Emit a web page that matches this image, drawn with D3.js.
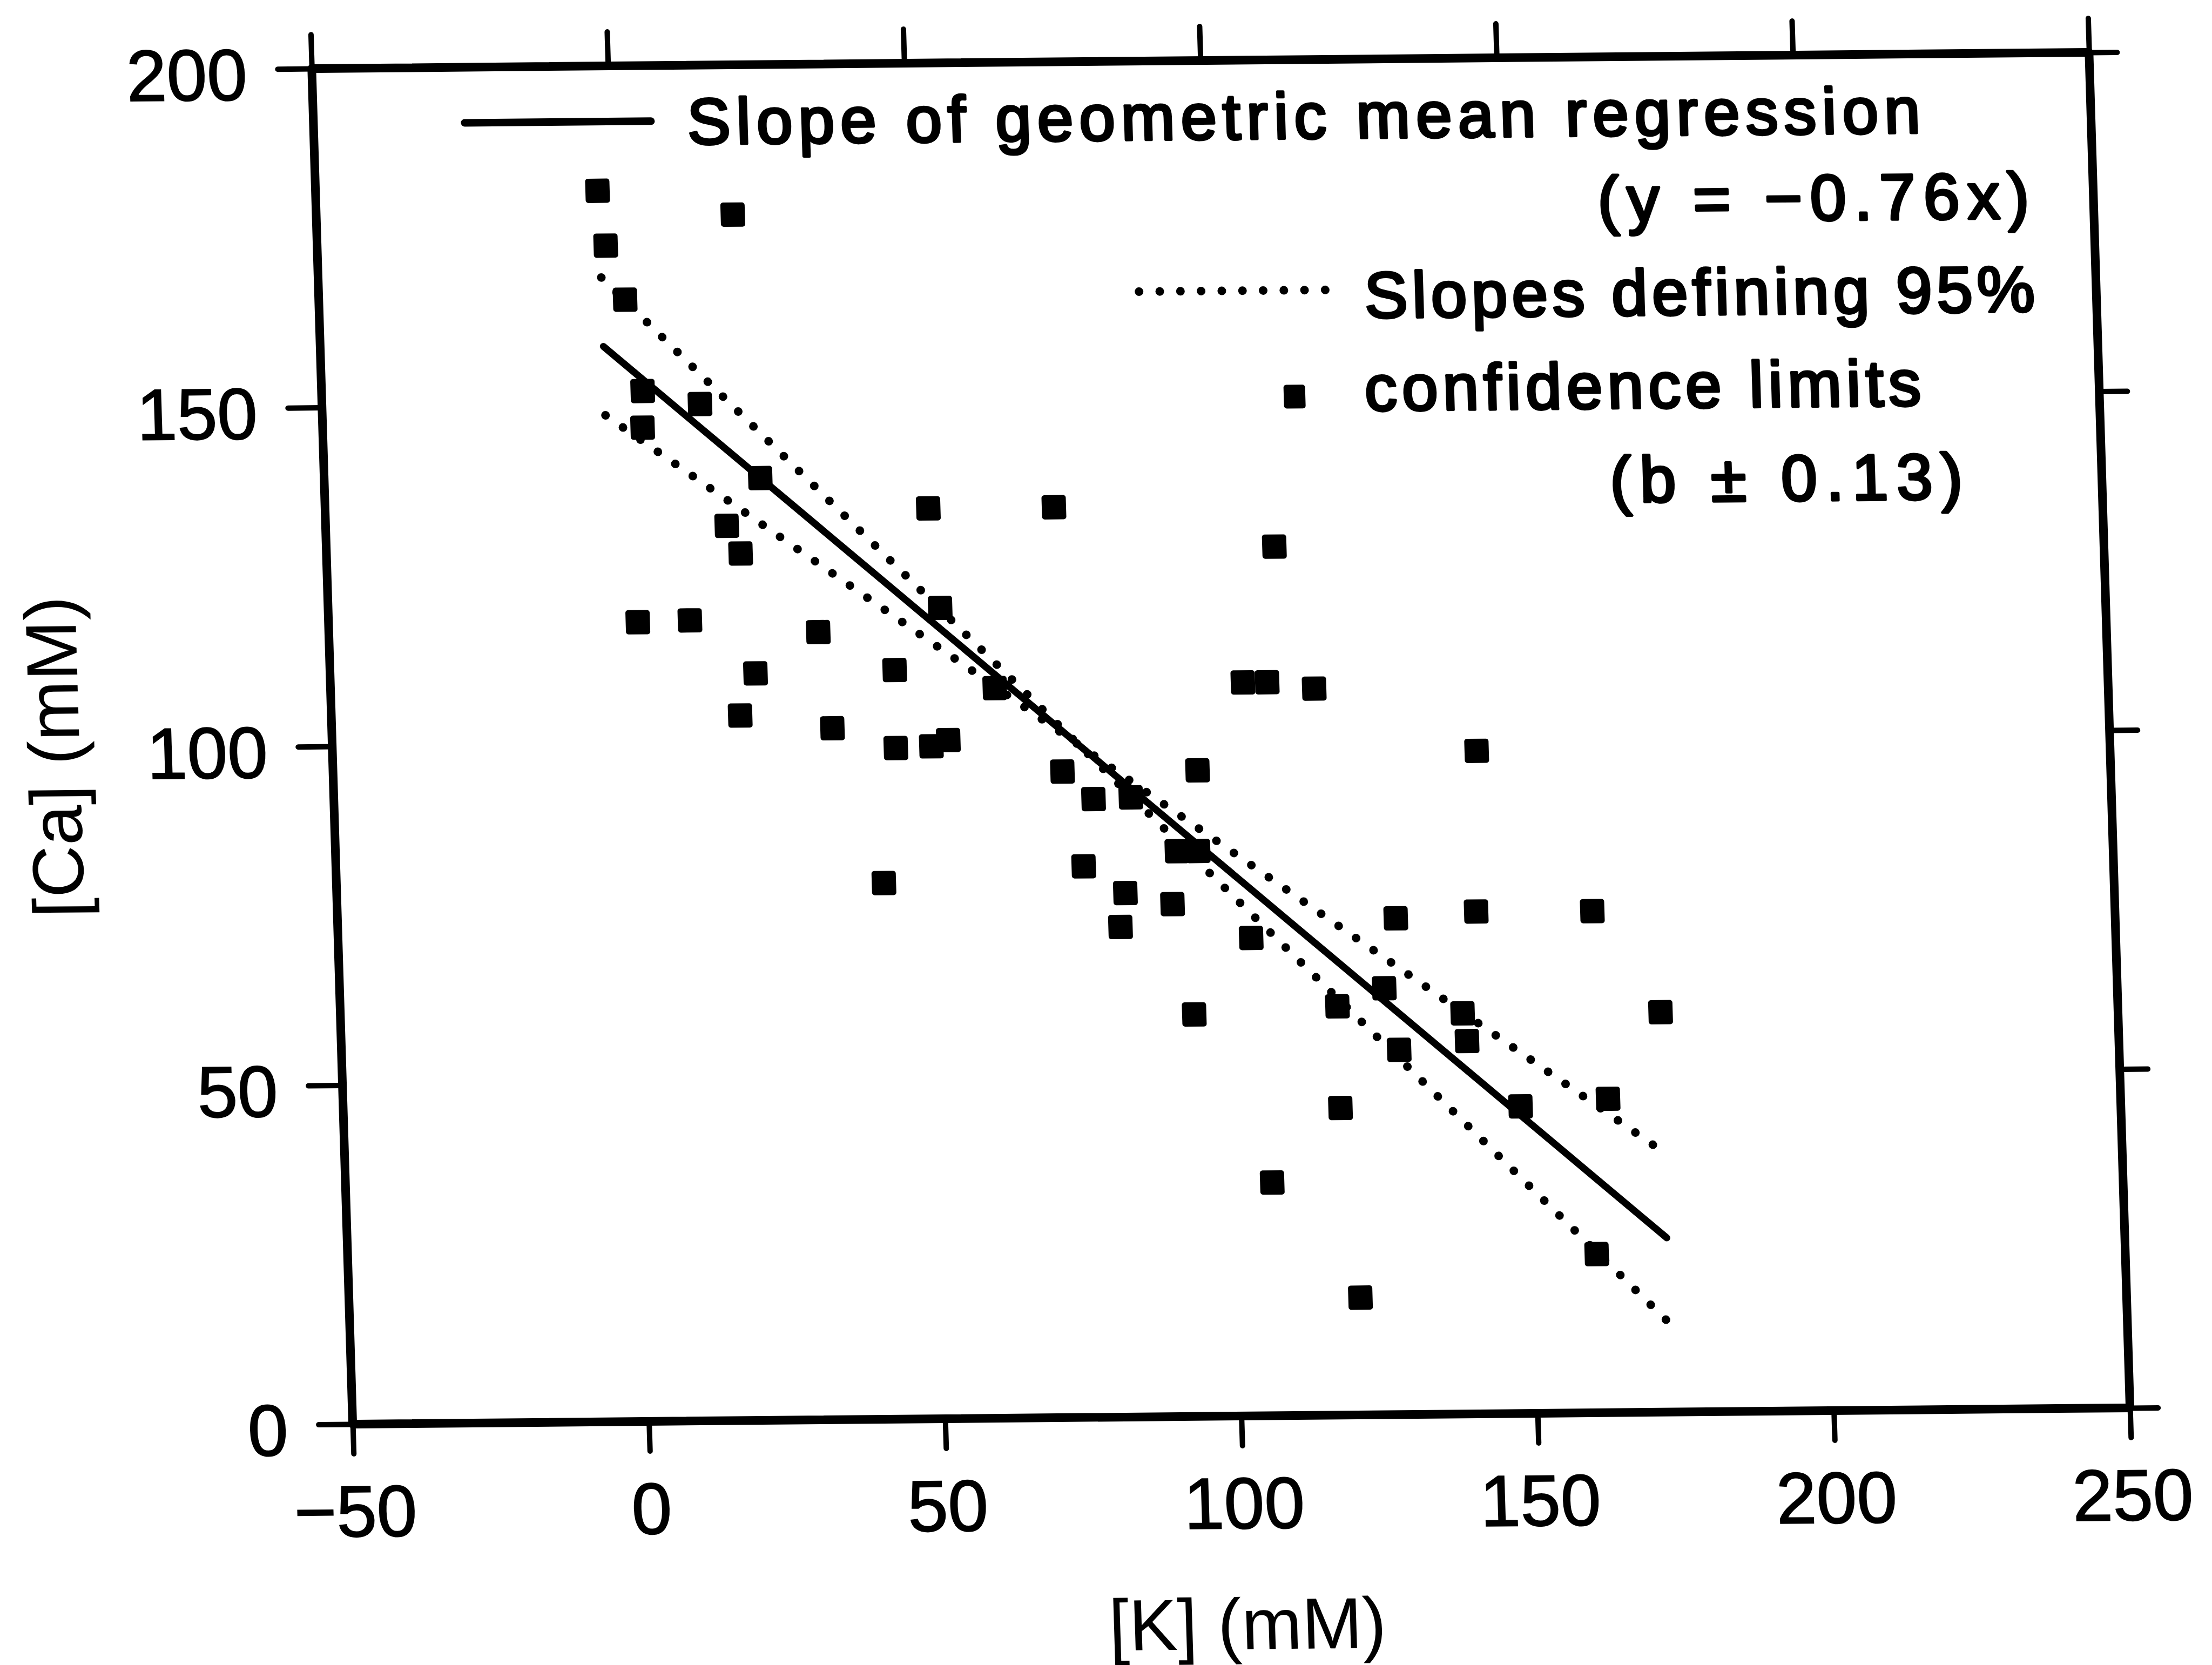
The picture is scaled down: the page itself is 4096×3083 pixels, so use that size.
<!DOCTYPE html>
<html>
<head>
<meta charset="utf-8">
<script src="https://cdn.jsdelivr.net/npm/d3@7"></script>
<style>
  html, body { margin: 0; padding: 0; background: #fff; }
  svg { display: block; }
  text { font-family: "Liberation Sans", Arial, Helvetica, sans-serif; fill: #000; }
</style>
</head>
<body>
<svg id="chart" width="4096" height="3083"></svg>
<script>
// Potassium concentration of each sample (mM)
const kValues = [
  -2.4, 20.3, -1.3, 1.7, 4.2, 13.8, 4.0, 23.6, 17.7, 19.9,
  2.2, 11.0, 32.6, 21.8, 19.0, 34.5, 51.8, 73.0, 53.3, 45.3,
  62.1, 45.1, 51.1, 54.0, 42.4, 110.0, 104.0, 108.1, 116.0, 73.1,
  78.2, 84.5, 95.9, 76.2, 92.0, 95.6, 83.1, 82.1, 91.0, 104.1,
  94.1, 118.3, 126.3, 128.6, 142.2, 161.8, 143.1, 172.8, 139.4, 140.0,
  128.5, 148.7, 163.5, 118.3, 106.4, 160.8, 120.7
];
// Calcium concentration of the same samples (mM)
const caValues = [
  181.6, 177.9, 173.5, 165.5, 152.0, 150.0, 146.6, 139.0, 132.0, 127.9,
  117.9, 118.1, 116.2, 110.2, 104.0, 102.0, 134.3, 134.3, 119.6, 110.5,
  107.7, 99.0, 99.2, 100.1, 79.1, 128.2, 108.2, 108.2, 107.2, 95.3,
  91.2, 91.4, 95.3, 81.3, 83.4, 83.4, 77.3, 72.3, 75.6, 70.5,
  59.3, 60.3, 62.9, 73.2, 74.1, 74.0, 97.8, 59.0, 59.1, 55.0,
  53.8, 45.3, 46.3, 45.3, 34.4, 23.4, 17.3
];

// Geometric mean regression: slope, 95% limits on the slope, pivot point, fitted [K] span
const fitSlope = -0.76;
const slopeCI = 0.13;
const centroid = [76, 99.2];
const fitKRange = [-2.2, 172.7];

// Axis ticks
const kTicks = [-50, 0, 50, 100, 150, 200, 250];
const caTicks = [0, 50, 100, 150, 200];

// Labels
const xTitle = "[K] (mM)";
const yTitle = "[Ca] (mM)";
const legendLines = [
  "Slope of geometric mean regression",
  "(y = \u22120.76x)",
  "Slopes defining 95%",
  "confidence limits",
  "(b \u00B1 0.13)"
];

const W = 3291, H = 2511;
const svg = d3.select("#chart");
svg.append("rect").attr("width", 4096).attr("height", 3083).attr("fill", "#fff");

// The plotting frame sits slightly sheared on the page
const g = svg.append("g")
  .attr("transform", "matrix(1,-0.00915,0.03018,0.99956,653.1,2637)");

const x = d3.scaleLinear().domain([-50, 250]).range([0, W]);
const y = d3.scaleLinear().domain([0, 200]).range([0, -H]);

const fmt = d3.format("d");
const tickStyle = sel => {
  sel.select(".domain").remove();
  sel.attr("font-family", null).attr("font-size", null);
  sel.selectAll(".tick line")
    .attr("stroke", "#000").attr("stroke-width", 10).attr("stroke-linecap", "round");
  sel.selectAll(".tick text").attr("font-size", 134).attr("fill", "#000")
    .attr("stroke", "#000").attr("stroke-width", 2);
};

// Bottom axis with labels
g.append("g")
  .call(d3.axisBottom(x).tickValues(kTicks).tickSize(55).tickFormat(fmt))
  .call(tickStyle)
  .call(s => s.selectAll(".tick text").attr("y", 208).attr("dy", 0));

// Left axis with labels
g.append("g")
  .call(d3.axisLeft(y).tickValues(caTicks).tickSize(63).tickPadding(57).tickFormat(fmt))
  .call(tickStyle)
  .call(s => s.selectAll(".tick text").attr("dy", "0.42em"));

// Top and right axes: ticks only
g.append("g").attr("transform", `translate(0,${-H})`)
  .call(d3.axisTop(x).tickValues(kTicks).tickSize(63).tickFormat(""))
  .call(tickStyle);
g.append("g").attr("transform", `translate(${W},0)`)
  .call(d3.axisRight(y).tickValues(caTicks).tickSize(52).tickFormat(""))
  .call(tickStyle);

// Frame
g.append("rect")
  .attr("x", 0).attr("y", -H).attr("width", W).attr("height", H)
  .attr("fill", "none").attr("stroke", "#000").attr("stroke-width", 16)
  .attr("stroke-linejoin", "round");

// Regression lines through the centroid
const line = d3.line().x(d => x(d[0])).y(d => y(d[1]));
const fitLine = s => fitKRange.map(k => [k, centroid[1] + s * (k - centroid[0])]);

[fitSlope - slopeCI, fitSlope + slopeCI].forEach(s => {
  g.append("path")
    .attr("d", line(fitLine(s)))
    .attr("fill", "none").attr("stroke", "#000")
    .attr("stroke-width", 16).attr("stroke-linecap", "round")
    .attr("stroke-dasharray", "0 39");
});
g.append("path")
  .attr("d", line(fitLine(fitSlope)))
  .attr("fill", "none").attr("stroke", "#000")
  .attr("stroke-width", 13).attr("stroke-linecap", "round");

// Samples
const SQ = 45;
g.append("g").selectAll("rect")
  .data(d3.zip(kValues, caValues))
  .join("rect")
  .attr("x", d => x(d[0]) - SQ / 2)
  .attr("y", d => y(d[1]) - SQ / 2)
  .attr("width", SQ).attr("height", SQ)
  .attr("rx", 5)
  .attr("fill", "#000");

// Legend
const lg = g.append("g").attr("font-size", 120);
lg.append("line").attr("x1", 280).attr("x2", 625).attr("y1", -2408).attr("y2", -2408)
  .attr("stroke", "#000").attr("stroke-width", 14).attr("stroke-linecap", "round");
lg.append("line").attr("x1", 1519).attr("x2", 1864).attr("y1", -2084).attr("y2", -2084)
  .attr("stroke", "#000").attr("stroke-width", 16).attr("stroke-linecap", "round")
  .attr("stroke-dasharray", "0 38.3");
lg.append("rect").attr("x", 1801 - 20).attr("y", -1887 - 22).attr("width", 40).attr("height", 44)
  .attr("rx", 5).attr("fill", "#000");

const legendText = [
  { x: 692,  y: -2365, w: 2283 },
  { x: 2373, y: -2205, w: 799 },
  { x: 1936, y: -2032, w: 1241 },
  { x: 1931, y: -1860, w: 1030 },
  { x: 2380, y: -1686, w: 653 }
];
legendText.forEach((p, i) => {
  lg.append("text")
    .attr("x", p.x).attr("y", p.y)
    .attr("textLength", p.w).attr("lengthAdjust", "spacing")
    .attr("stroke", "#000").attr("stroke-width", 5).attr("stroke-linejoin", "round")
    .text(legendLines[i]);
});

// Axis titles
g.append("text")
  .attr("x", x(100)).attr("y", 432)
  .attr("text-anchor", "middle").attr("font-size", 134)
  .text(xTitle);
g.append("text")
  .attr("transform", `translate(-468,${y(100) + 15}) rotate(-90)`)
  .attr("text-anchor", "middle").attr("font-size", 134)
  .text(yTitle);
</script>
</body>
</html>
